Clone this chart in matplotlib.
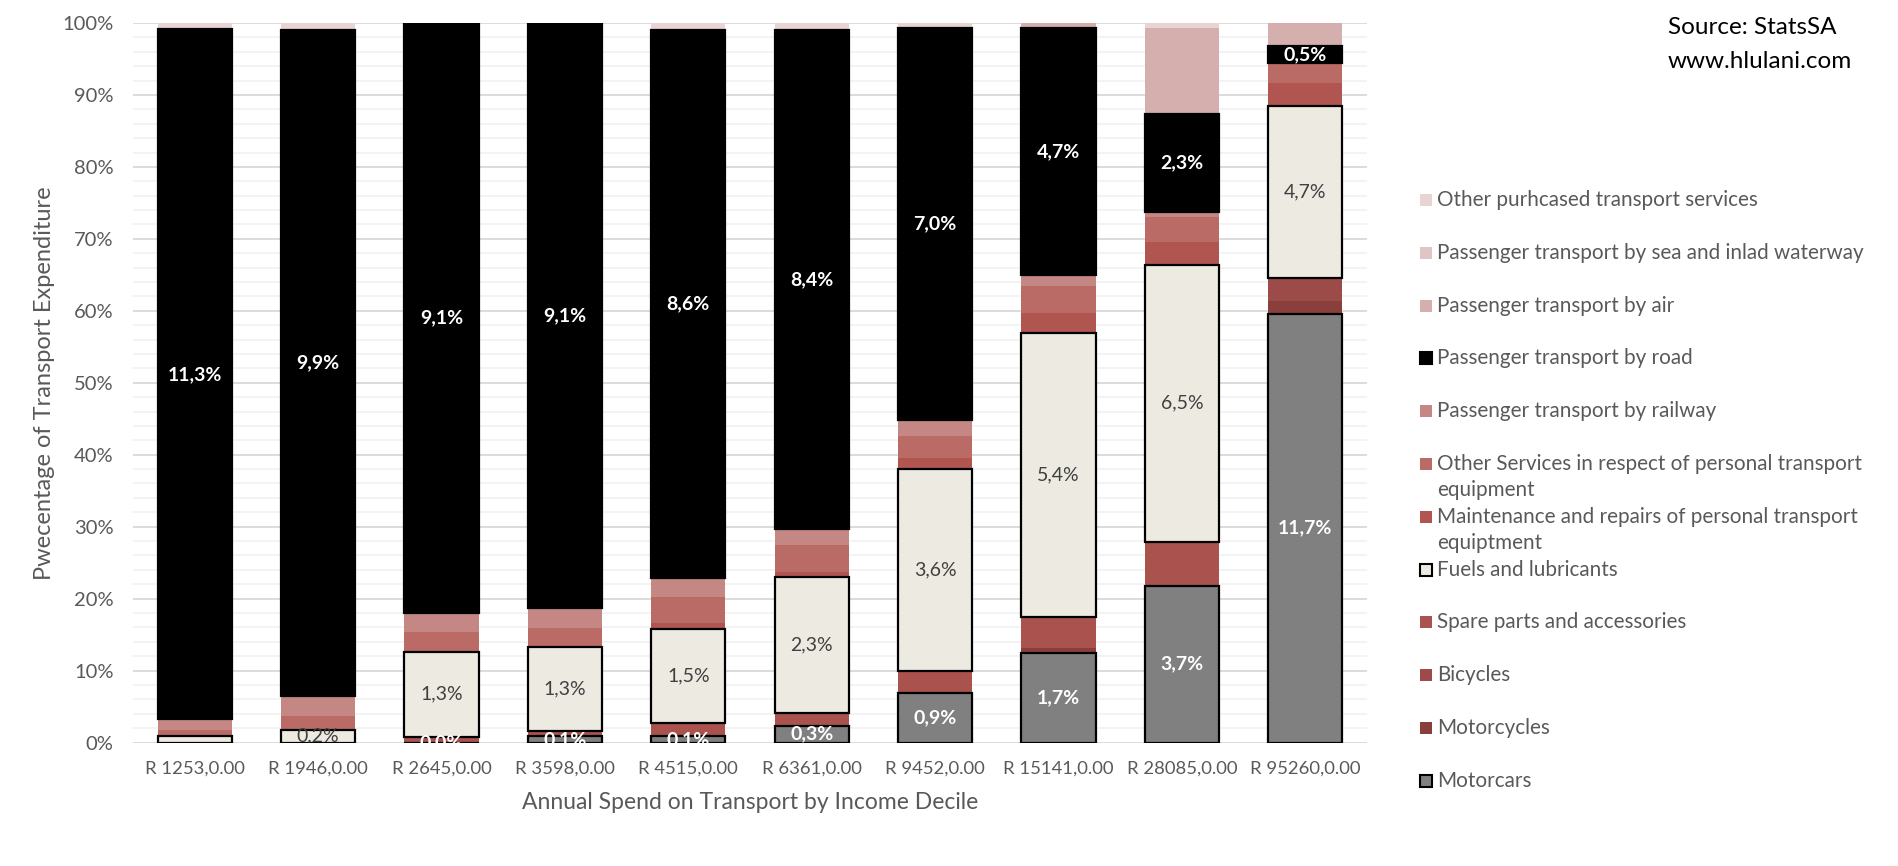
import matplotlib
matplotlib.use("Agg")
import matplotlib.pyplot as plt
from matplotlib.patches import Rectangle
import numpy as np

FONT = "Lato"
plt.rcParams['font.family'] = [FONT, 'DejaVu Sans']

categories = ["R 1253,0.00", "R 1946,0.00", "R 2645,0.00", "R 3598,0.00", "R 4515,0.00",
              "R 6361,0.00", "R 9452,0.00", "R 15141,0.00", "R 28085,0.00", "R 95260,0.00"]

# Share of transport expenditure (%) per decile, bottom to top of stack
motorcars      = [0.0, 0.0, 0.0, 0.9, 0.9, 2.35, 6.9, 12.4, 21.8, 59.6]
motorcycles    = [0.0, 0.0, 0.0, 0.0, 0.0, 0.0, 0.0, 0.75, 0.0, 1.7]
bicycles       = [0.0, 0.0, 0.0, 0.0, 0.0, 0.0, 0.0, 0.0, 0.0, 3.2]
spare_parts    = [0.0, 0.0, 0.8, 0.7, 1.75, 1.8, 3.0, 4.3, 6.1, 0.0]
fuels          = [0.9, 1.8, 11.8, 11.65, 13.1, 18.9, 28.1, 39.4, 38.5, 24.0]
maintenance    = [0.0, 0.0, 0.0, 0.0, 0.9, 0.7, 1.55, 2.9, 3.2, 3.2]
other_services = [0.9, 1.9, 2.8, 2.6, 3.6, 3.7, 3.0, 3.7, 3.5, 2.7]
railway        = [1.4, 2.8, 2.6, 2.9, 2.6, 2.2, 2.3, 1.5, 0.7, 0.0]
road           = [95.9, 92.5, 82.0, 81.2, 76.2, 69.4, 54.4, 34.3, 13.5, 2.4]
air            = [0.0, 0.0, 0.0, 0.0, 0.0, 0.0, 0.0, 0.75, 12.0, 3.2]
sea            = [0.0, 0.0, 0.0, 0.0, 0.0, 0.0, 0.0, 0.0, 0.0, 0.0]
other_purch    = [0.9, 1.0, 0.0, 0.0, 0.9, 1.0, 0.75, 0.0, 0.7, 0.0]

# Data labels shown on the bars
road_labels = ["11,3%", "9,9%", "9,1%", "9,1%", "8,6%", "8,4%", "7,0%", "4,7%", "2,3%", "0,5%"]
fuel_labels = [None, "0,2%", "1,3%", "1,3%", "1,5%", "2,3%", "3,6%", "5,4%", "6,5%", "4,7%"]
car_labels  = [None, None, "0,0%", "0,1%", "0,1%", "0,3%", "0,9%", "1,7%", "3,7%", "11,7%"]

series = [
    ("Motorcars", motorcars, "#808080", True),
    ("Motorcycles", motorcycles, "#8A3F3D", False),
    ("Bicycles", bicycles, "#9C4B48", False),
    ("Spare parts and accessories", spare_parts, "#A9524E", False),
    ("Fuels and lubricants", fuels, "#EDEAE2", True),
    ("Maintenance and repairs of personal transport\nequiptment", maintenance, "#B0554F", False),
    ("Other Services in respect of personal transport\nequipment", other_services, "#BA6B66", False),
    ("Passenger transport by railway", railway, "#C48783", False),
    ("Passenger transport by road", road, "#000000", True),
    ("Passenger transport by air", air, "#D4AFAD", False),
    ("Passenger transport by sea and inlad waterway", sea, "#DFC5C4", False),
    ("Other purhcased transport services", other_purch, "#E7D4D3", False),
]

W, H = 1898, 866
fig = plt.figure(figsize=(W / 100, H / 100), dpi=100)
ax = fig.add_axes([133 / W, 1 - 742.5 / H, (1367 - 133) / W, (742.5 - 23) / H])

x = np.arange(len(categories))
bottom = np.zeros(len(categories))
bottoms = {}
for name, vals, col, edged in series:
    vals = np.array(vals, dtype=float)
    bottoms[name] = bottom.copy()
    if edged:
        ax.bar(x, vals, 0.6, bottom=bottom, color=col, edgecolor="black", linewidth=1.6, zorder=3)
    else:
        ax.bar(x, vals, 0.6, bottom=bottom, color=col, linewidth=0, zorder=2)
    bottom = bottom + vals

def put_labels(name, vals, labels, color, weight):
    b = bottoms[name]
    for i, lab in enumerate(labels):
        if lab is None:
            continue
        ax.text(x[i], b[i] + vals[i] / 2, lab, ha="center", va="center", color=color,
                fontsize=14, fontweight=weight, zorder=5, clip_on=True)

put_labels("Passenger transport by road", road, road_labels, "white", "bold")
put_labels("Fuels and lubricants", fuels, fuel_labels, "#404040", "normal")
put_labels("Motorcars", motorcars, car_labels, "white", "bold")

ax.set_xlim(-0.5, len(categories) - 0.5)
ax.set_ylim(0, 100)
ax.set_yticks(np.arange(0, 101, 10))
ax.set_yticklabels([f"{v}%" for v in range(0, 101, 10)])
ax.set_yticks(np.arange(0, 101, 2), minor=True)
ax.grid(axis="y", which="major", color="#D9D9D9", linewidth=1.3, zorder=0)
ax.grid(axis="y", which="minor", color="#F2F2F2", linewidth=1.3, zorder=0)
ax.set_axisbelow(True)
ax.set_xticks(x)
ax.set_xticklabels(categories)
ax.tick_params(axis="both", which="both", length=0, labelcolor="#595959")
ax.tick_params(axis="x", pad=13, labelsize=13.3)
ax.tick_params(axis="y", pad=14, labelsize=14.5)
for s in ax.spines.values():
    s.set_visible(False)

ax.set_xlabel("Annual Spend on Transport by Income Decile", fontsize=16.5, color="#595959", labelpad=11)
ax.set_ylabel("Pwecentage of Transport Expenditure", fontsize=17, color="#595959", labelpad=5)

# Source text
fig.text(1668 / W, 1 - 27 / H, "Source: StatsSA", fontsize=17.5, color="black", va="center", ha="left")
fig.text(1668 / W, 1 - 61 / H, "www.hlulani.com", fontsize=17.5, color="black", va="center", ha="left")

# Legend (drawn manually, top to bottom)
y0, dy = 200, 52.8
for k, (name, vals, col, edged) in enumerate(reversed(series)):
    yc = y0 + k * dy
    sq = 12
    rect = Rectangle(((1420) / W, 1 - (yc + sq / 2) / H), sq / W, sq / H, transform=fig.transFigure,
                     facecolor=col, edgecolor="black" if edged else "none",
                     linewidth=1.5 if edged else 0)
    fig.add_artist(rect)
    lines = name.split("\n")
    for j, ln in enumerate(lines):
        fig.text(1437 / W, 1 - (yc + j * 26.5) / H, ln, fontsize=14.9, color="#595959",
                 va="center", ha="left")

fig.savefig("out.png", dpi=100)
